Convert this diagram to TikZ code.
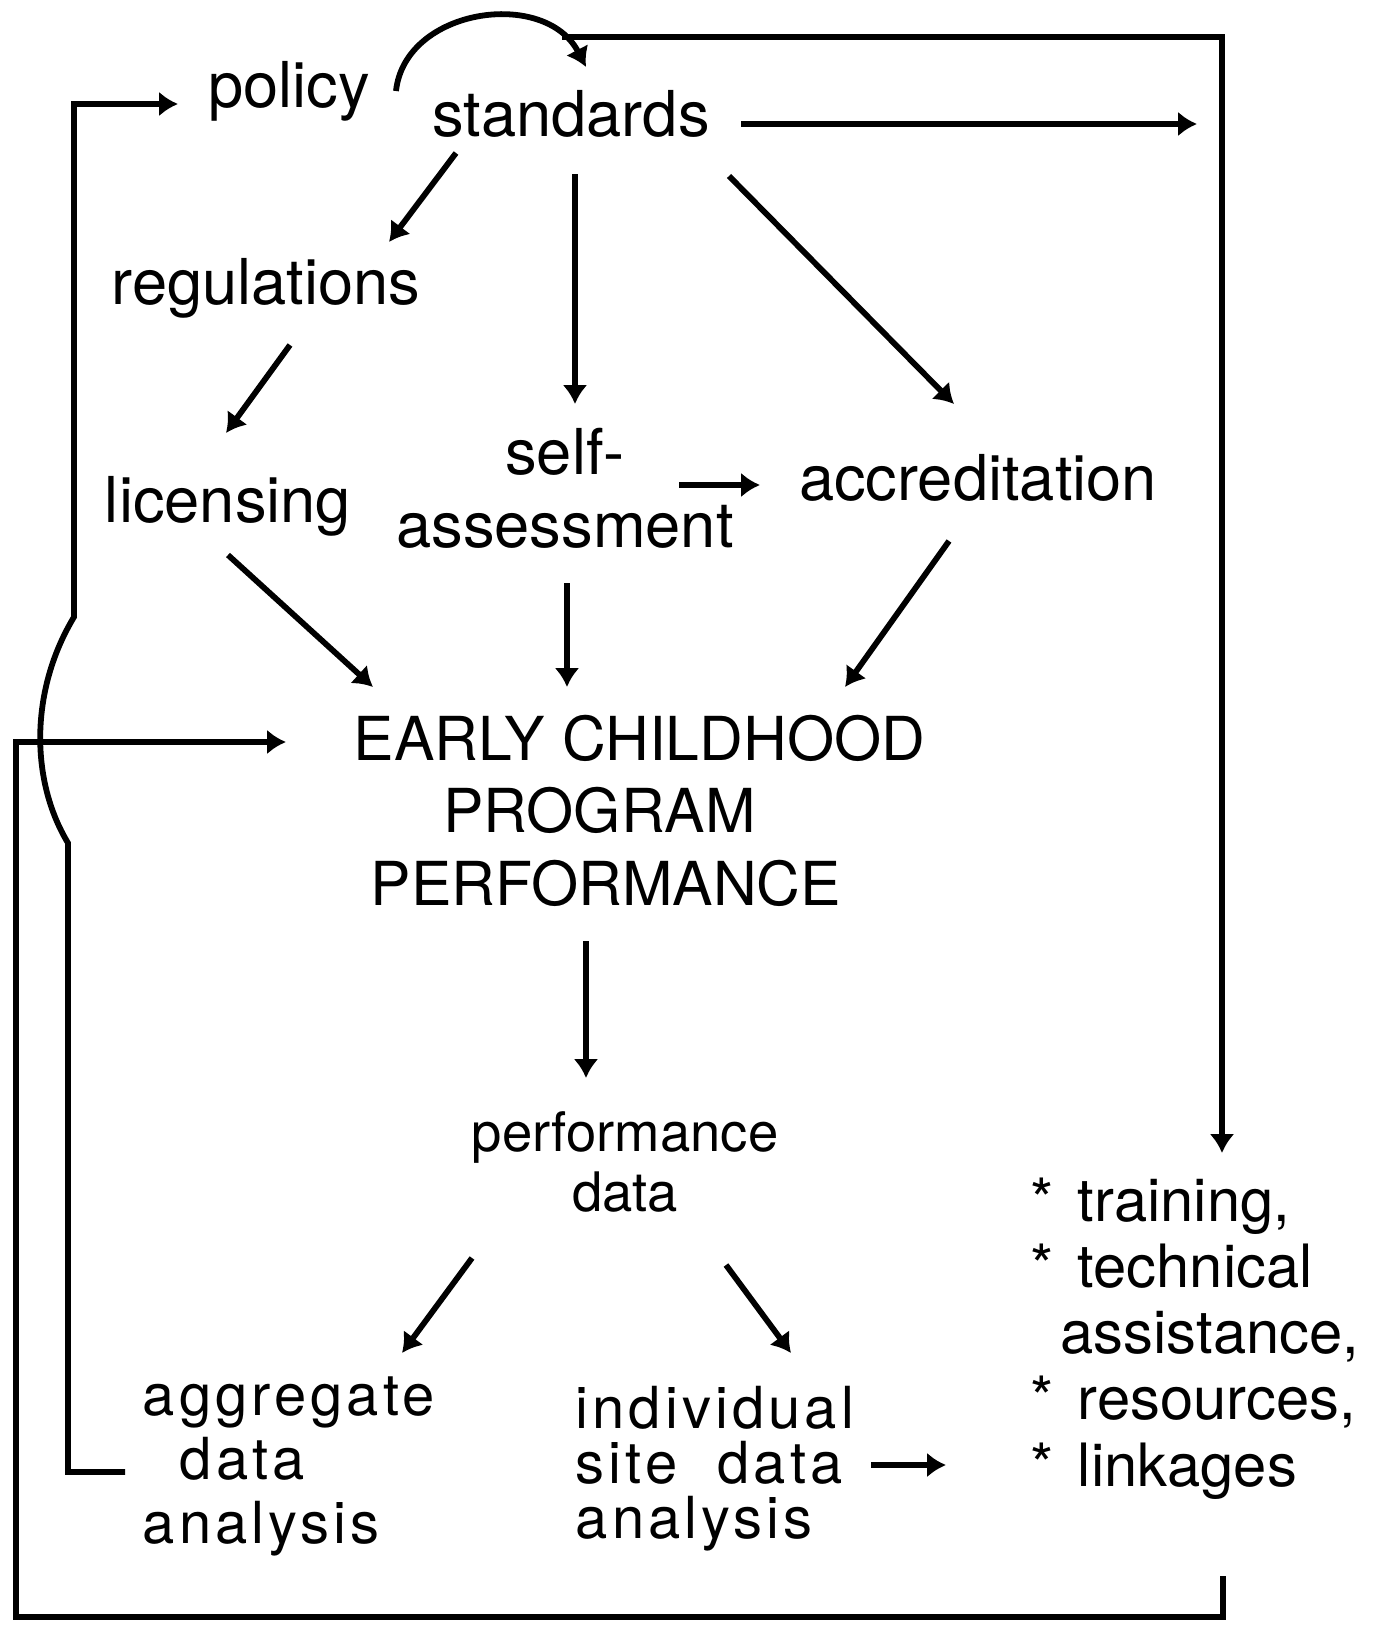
\documentclass[tikz,border=0pt]{standalone}
\usepackage{fontspec}
\setmainfont{TeX Gyre Heros}
\usetikzlibrary{arrows.meta}
\newcommand{\itm}{*\hspace{0.4em}}

\begin{document}
\begin{tikzpicture}
    [
    x=0.02cm, y=0.02cm,
    line width=3.3pt,
    >={Latex[length=3.8mm,width=5mm]},
    txt/.style={anchor=base, inner sep=0.3333em, font=\fontsize{36}{41}\selectfont},
    blk/.style={txt, align=center},
    lst/.style={txt, anchor=base west, align=left},
    ]
    \useasboundingbox (0,0) rectangle (1379,-1626);
    % % nodes, at pixel positions of the scan (base = last line)
    \node[txt] (pol) at (289,-107) {policy};
    \node[txt] (std) at (571,-136) {standards};
    \node[txt] (reg) at (266,-304) {regulations};
    \node[txt] (lic) at (228,-522) {licensing};
    \node[blk] (self) at (565,-547) {self-\\assessment};
    \node[txt] (acc) at (978,-500) {accreditation};
    \node[lst, font=\fontsize{34.5}{41}\selectfont] (ecpp) at (345,-905) {EARLY CHILDHOOD\\\hspace*{1.48em}PROGRAM\\\hspace*{0.28em}PERFORMANCE};
    \node[blk, font=\fontsize{31}{34}\selectfont] (pdat) at (625,-1211) {performance\\data};
    \node[lst, font=\fontsize{33}{36.4}\selectfont\addfontfeatures{LetterSpace=7}] (agg) at (134,-1543) {aggregate\\\hspace*{0.64em}data\\analysis};
    \node[lst, font=\fontsize{33}{31.3}\selectfont\addfontfeatures{LetterSpace=7}] (ind) at (567,-1538) {individual\\site\ \ data\\analysis};
    \node[lst, font=\fontsize{34}{37.6}\selectfont] (trn) at (1022,-1486) {\itm training,\\\itm technical\\\hspace*{0.5em}assistance,\\\itm resources,\\\itm linkages};
    \coordinate (mrg) at (1197,-124);
    %
    \path[->]
        ([shift={(-115,-17)}]std.base) edge ([shift={(123,62)}]reg.base)
        ([shift={(4,-38)}]std.base) edge ([shift={(10,143)}]self.base)
        ([shift={(158,-40)}]std.base) edge ([shift={(-24,96)}]acc.base)
        ([shift={(170,12)}]std.base) edge (mrg)
        ([shift={(24,-41)}]reg.base) edge ([shift={(-2,89)}]lic.base)
        ([shift={(114,62)}]self.base) edge ([shift={(-218,15)}]acc.base)
        ([shift={(0,-33)}]lic.base) edge ([shift={(28,218)}]ecpp.base west)
        ([shift={(2,-36)}]self.base) edge ([shift={(222,218)}]ecpp.base west)
        ([shift={(-29,-41)}]acc.base) edge ([shift={(500,218)}]ecpp.base west)
        ([shift={(241,-36)}]ecpp.base west) edge ([shift={(-39,133)}]pdat.base)
        ([shift={(-153,-47)}]pdat.base) edge ([shift={(268,190)}]agg.base west)
        ([shift={(101,-54)}]pdat.base) edge ([shift={(224,185)}]ind.base west)
        ([shift={(304,73)}]ind.base west) edge ([shift={(-76,21)}]trn.base west)
    ;
    % feedback loops
    \draw[->] ([shift={(107,16)}]pol.base) .. controls (405,-8) and (545,12) .. ([shift={(15,69)}]std.base);
    \draw[->] ([shift={(-9,99)}]std.base) -| ([shift={(200,333)}]trn.base west);
    \draw[->] ([shift={(-9,71)}]agg.base west) -- (68,-1472) -- (68,-843)
        .. controls (30,-780) and (30,-690) .. (74,-617) |- ([shift={(-111,3)}]pol.base);
    \draw[->] ([shift={(201,-90)}]trn.base west) |- (16,-1617) |- ([shift={(-59,163)}]ecpp.base west);
\end{tikzpicture}
\end{document}
